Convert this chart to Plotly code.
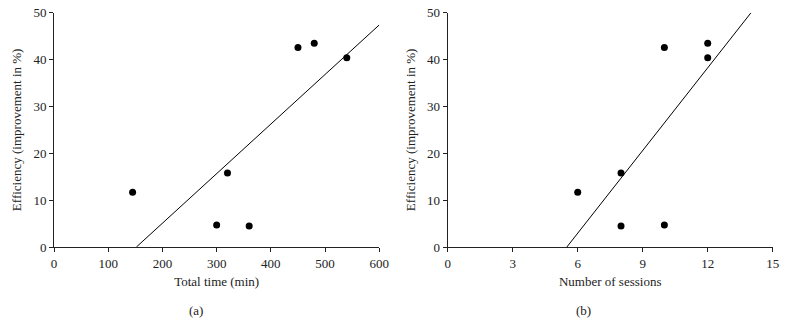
import plotly.graph_objects as go

# Panel (a): total time vs efficiency
time_min = [145, 300, 320, 360, 450, 480, 540]
efficiency_a = [11.7, 4.7, 15.8, 4.5, 42.6, 43.5, 40.4]
fit_a_x = [152, 600]
fit_a_y = [0, 47.4]

# Panel (b): number of sessions vs efficiency
sessions = [6, 8, 8, 10, 10, 12, 12]
efficiency_b = [11.7, 15.8, 4.5, 42.6, 4.7, 43.5, 40.4]
fit_b_x = [5.5, 14]
fit_b_y = [0, 50]

x_ticks_a = [0, 100, 200, 300, 400, 500, 600]
x_ticks_b = [0, 3, 6, 9, 12, 15]
y_ticks = [0, 10, 20, 30, 40, 50]

FONT = "Liberation Serif"
W, H = 787, 322

fig = go.Figure()
fig.add_trace(go.Scatter(x=fit_a_x, y=fit_a_y, mode="lines",
                         line=dict(color="black", width=1), xaxis="x", yaxis="y", showlegend=False))
fig.add_trace(go.Scatter(x=time_min, y=efficiency_a, mode="markers",
                         marker=dict(color="black", size=7), xaxis="x", yaxis="y", showlegend=False))
fig.add_trace(go.Scatter(x=fit_b_x, y=fit_b_y, mode="lines",
                         line=dict(color="black", width=1), xaxis="x2", yaxis="y2", showlegend=False))
fig.add_trace(go.Scatter(x=sessions, y=efficiency_b, mode="markers",
                         marker=dict(color="black", size=7), xaxis="x2", yaxis="y2", showlegend=False))

ydom = [1 - 247 / H, 1 - 12.7 / H]
axis_common = dict(showgrid=False, zeroline=False, showline=True, linecolor="#222",
                   linewidth=1, ticks="outside", ticklen=4, tickcolor="#222",
                   automargin=False,
                   tickfont=dict(family=FONT, size=13, color="#222"))

fig.update_layout(
    width=W, height=H,
    margin=dict(l=0, r=0, t=0, b=0),
    paper_bgcolor="white", plot_bgcolor="white",
    font=dict(family=FONT, color="#222"),
    xaxis=dict(domain=[54 / W, 379.3 / W], range=[0, 600], tickvals=x_ticks_a,
               title=dict(text="Total time (min)", font=dict(family=FONT, size=13), standoff=7),
               anchor="y", **axis_common),
    yaxis=dict(domain=ydom, range=[0, 50], tickvals=y_ticks,
               title=dict(text="Efficiency (improvement in %)", font=dict(family=FONT, size=13), standoff=8),
               anchor="x", **axis_common),
    xaxis2=dict(domain=[447.7 / W, 772.7 / W], range=[0, 15], tickvals=x_ticks_b,
                title=dict(text="Number of sessions", font=dict(family=FONT, size=13), standoff=7),
                anchor="y2", **axis_common),
    yaxis2=dict(domain=ydom, range=[0, 50], tickvals=y_ticks,
                title=dict(text="Efficiency (improvement in %)", font=dict(family=FONT, size=13), standoff=8),
                anchor="x2", **axis_common),
    annotations=[
        dict(text="(a)", x=196 / W, y=1 - 310 / H, xref="paper", yref="paper",
             xanchor="center", yanchor="middle",
             showarrow=False, font=dict(family=FONT, size=13, color="#222")),
        dict(text="(b)", x=583 / W, y=1 - 310 / H, xref="paper", yref="paper",
             xanchor="center", yanchor="middle",
             showarrow=False, font=dict(family=FONT, size=13, color="#222")),
    ],
)

fig.write_html(
    "out.html",
    config={"displayModeBar": False},
    post_script="document.body.style.margin='0';document.body.style.overflow='hidden';",
)
